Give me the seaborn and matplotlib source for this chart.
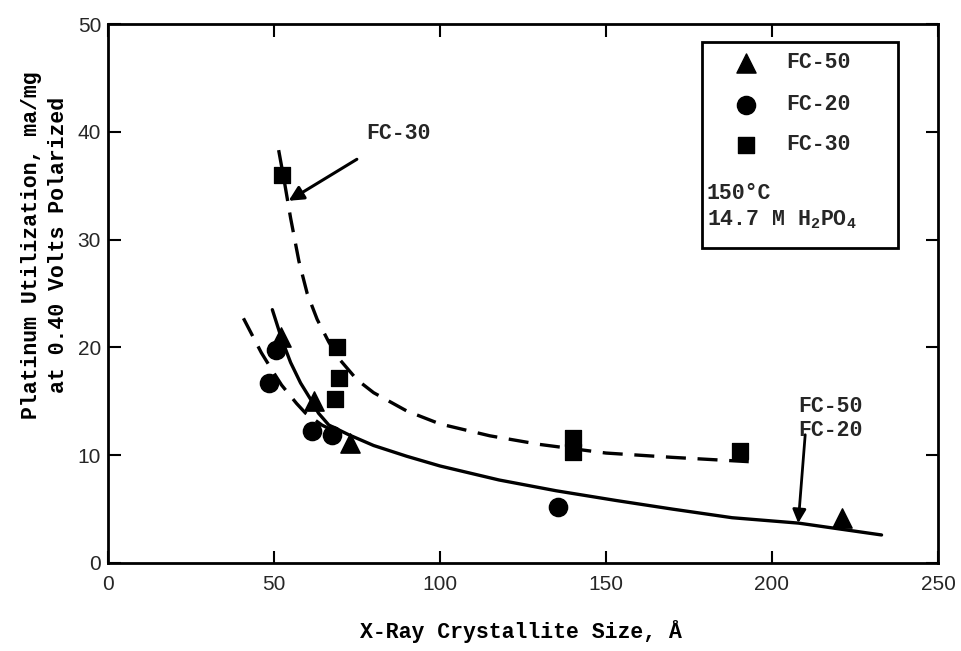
import matplotlib
matplotlib.use("Agg")
import matplotlib.pyplot as plt
import seaborn as sns
import pandas as pd
from matplotlib.patches import Rectangle

# ---- data ----
fc50_x = [52, 62, 73, 221]
fc50_y = [21.0, 15.0, 11.1, 4.2]
fc20_x = [50.5, 48.5, 61.5, 67.5, 135.5]
fc20_y = [19.8, 16.7, 12.2, 11.9, 5.2]
fc30_x = [52.5, 69, 69.5, 68.5, 140, 140, 190.5]
fc30_y = [36.0, 20.0, 17.2, 15.2, 11.6, 10.3, 10.4]

# curves
fc30_curve_x = [51.4, 53, 55, 57.5, 60, 63, 66.5, 70, 75, 80, 90, 100, 115, 130, 150, 170, 193]
fc30_curve_y = [38.3, 35.6, 32.0, 28.0, 25.0, 22.6, 20.5, 18.8, 17.0, 15.8, 14.1, 12.9, 11.8, 11.0, 10.2, 9.8, 9.4]
solid_curve_x = [49.5, 52.4, 55, 58, 61.4, 63.4, 66.5, 72.5, 80, 90, 100, 117.8, 135, 153, 170, 188, 208, 233]
solid_curve_y = [23.5, 20.7, 18.6, 16.7, 15.0, 13.9, 12.8, 11.9, 10.9, 9.9, 9.0, 7.7, 6.7, 5.8, 5.0, 4.2, 3.7, 2.6]
low_curve_x = [40.8, 44, 46.2, 49.8, 52.3, 56.8, 59.5, 64.4, 69]
low_curve_y = [22.7, 20.8, 19.5, 17.7, 16.5, 14.8, 13.9, 12.8, 12.1]

x_ticks = [0, 50, 100, 150, 200, 250]
y_ticks = [0, 10, 20, 30, 40, 50]

sns.set_theme(style="white")
mono = ["Liberation Mono", "DejaVu Sans Mono"]
plt.rcParams["font.family"] = mono
plt.rcParams["font.weight"] = "bold"
plt.rcParams["axes.labelweight"] = "bold"
plt.rcParams["mathtext.fontset"] = "custom"
plt.rcParams["mathtext.rm"] = "Liberation Mono:bold"
plt.rcParams["mathtext.it"] = "Liberation Mono:bold"
plt.rcParams["mathtext.bf"] = "Liberation Mono:bold"

FS = 15.5

fig = plt.figure(figsize=(9.62, 6.51), dpi=100)
ax = fig.add_axes([108 / 962, 1 - 563 / 651, 830 / 962, 539 / 651])

lw = 2.4
df30 = pd.DataFrame({"x": fc30_curve_x, "y": fc30_curve_y})
dfs = pd.DataFrame({"x": solid_curve_x, "y": solid_curve_y})
dfl = pd.DataFrame({"x": low_curve_x, "y": low_curve_y})
sns.lineplot(data=df30, x="x", y="y", sort=False, color="black", lw=lw, ax=ax)
ax.lines[-1].set_dashes([6, 3.5])
sns.lineplot(data=dfs, x="x", y="y", sort=False, color="black", lw=lw, ax=ax)
sns.lineplot(data=dfl, x="x", y="y", sort=False, color="black", lw=lw, ax=ax)
ax.lines[-1].set_dashes([6, 3.5])

ms = 190
sns.scatterplot(x=fc50_x, y=fc50_y, marker="^", s=ms, color="black", edgecolor="black", ax=ax, zorder=5)
sns.scatterplot(x=fc20_x, y=fc20_y, marker="o", s=ms * 0.9, color="black", edgecolor="black", ax=ax, zorder=5)
sns.scatterplot(x=fc30_x, y=fc30_y, marker="s", s=ms * 0.7, color="black", edgecolor="black", ax=ax, zorder=5)

ax.set_xlim(0, 250)
ax.set_ylim(0, 50)
ax.set_xticks(x_ticks)
ax.set_yticks(y_ticks)
tick_font = dict(family=["Liberation Sans", "DejaVu Sans"], size=15, weight="normal")
ax.set_xticklabels([str(t) for t in x_ticks], fontdict=tick_font)
ax.set_yticklabels([str(t) for t in y_ticks], fontdict=tick_font)
ax.tick_params(direction="in", length=9, width=1.5, top=True, right=True,
               bottom=True, left=True, color="black", pad=5)
ax.tick_params(axis="x", pad=9)
for s in ax.spines.values():
    s.set_color("black")
    s.set_linewidth(2)

ax.set_xlabel("X-Ray Crystallite Size, Å", fontsize=FS, color="black", fontweight="bold")
ax.xaxis.set_label_coords(0.497, -0.105)
ax.set_ylabel("Platinum Utilization, ma/mg\nat 0.40 Volts Polarized", fontsize=FS,
              color="black", linespacing=1.35, fontweight="bold")
ax.yaxis.set_label_coords(-0.047, 0.59)

# annotations
ax.annotate("FC-30", xy=(54.4, 33.6), xytext=(87.5, 39.8), fontsize=FS,
            ha="center", va="center",
            arrowprops=dict(arrowstyle="-|>", color="black", lw=2.2,
                            shrinkA=16, shrinkB=0, mutation_scale=22))
ax.text(217.5, 13.4, "FC-50\nFC-20", fontsize=FS, ha="center", va="center", linespacing=1.2)
ax.annotate("", xy=(207.9, 3.7), xytext=(210, 11.9),
            arrowprops=dict(arrowstyle="-|>", color="black", lw=2.0,
                            shrinkA=0, shrinkB=0, mutation_scale=20))

# legend box
def px2data(px, py):
    return ((px - 108) / 830 * 250, (563 - py) / 539 * 50)

x0, y0 = px2data(702, 248)
x1, y1 = px2data(898, 42)
ax.add_patch(Rectangle((x0, y0), x1 - x0, y1 - y0, fill=True, facecolor="white",
                       edgecolor="black", lw=2, zorder=6))
mx, _ = px2data(746, 0)
tx, _ = px2data(786, 0)
leg_rows = [("^", "FC-50", 63, ms), ("o", "FC-20", 105, ms * 0.9), ("s", "FC-30", 145, ms * 0.7)]
for mk, lab, py, sz in leg_rows:
    _, yy = px2data(0, py)
    ax.scatter([mx], [yy], marker=mk, s=sz, color="black", zorder=7)
    ax.text(tx, yy, lab, fontsize=FS, va="center", ha="left", zorder=7)
lx, _ = px2data(707, 0)
_, ly1 = px2data(0, 193)
_, ly2 = px2data(0, 220)
ax.text(lx, ly1, "150°C", fontsize=FS, va="center", ha="left", zorder=7)
ax.text(lx, ly2, "14.7 M H$_2$PO$_4$", fontsize=FS, va="center", ha="left", zorder=7)

fig.savefig("out.png", dpi=100, facecolor="white")
